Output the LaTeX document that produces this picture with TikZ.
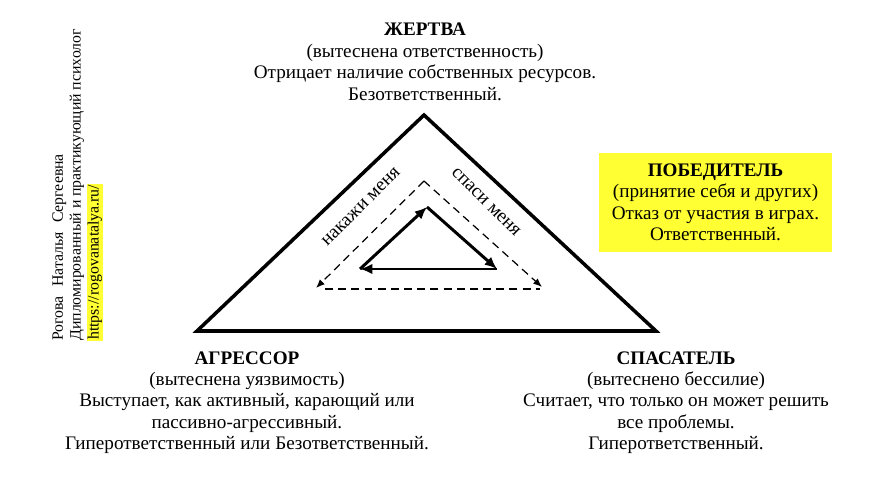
\documentclass[tikz,border=0pt]{standalone}
\usepackage{fontspec}
\setmainfont{Liberation Serif}
\usetikzlibrary{arrows.meta}
\definecolor{marker}{RGB}{255,255,51}
\tikzset{
  role/.style={align=center, inner sep=0pt, font=\fontsize{10.9}{12.2}\selectfont},
  edge/.style={line width=2pt, line join=miter},
  game/.style={line width=1.7pt, -{Latex[length=7pt,width=6pt]}},
  offer/.style={line width=0.7pt, dash pattern=on 4.5pt off 3pt},
}
\begin{document}
\begin{tikzpicture}[x=0.02cm,y=-0.02cm]
    \useasboundingbox (0,0) rectangle (874,476);
    % outer triangle, dashed invitations, inner game cycle
    \coordinate (top) at (424,115);
    \coordinate (left) at (197,331);
    \coordinate (right) at (656,331);
    \draw[edge] (top) -- (left) -- (right) -- cycle;
    \coordinate (dtop) at (424,181);
    \coordinate (dleft) at (316,288);
    \coordinate (dright) at (542,287);
    \coordinate (dbl) at (325,289);
    \coordinate (dbr) at (540,289);
    \draw[offer, -{Latex[length=5pt,width=4pt]}] (dtop) -- (dleft);
    \draw[offer, -{Latex[length=5pt,width=4pt]}] (dtop) -- (dright);
    \draw[offer] (dbl) -- (dbr);
    \coordinate (itop) at (427,207);
    \coordinate (ileft) at (360,269);
    \coordinate (iright) at (497,269);
    \draw[game] (ileft) -- (itop);
    \draw[game] (itop) -- (iright);
    \draw[game] (iright) -- (ileft);
    \node[role, rotate=45] (punish) at (361,207) {накажи меня};
    \node[role, rotate=-45] (save) at (486,202) {спаси меня};
    \node[role, anchor=north] (victim) at (425,23) {\textbf{ЖЕРТВА}\\(вытеснена ответственность)\\Отрицает наличие собственных ресурсов.\\Безответственный.};
    \node[role, anchor=north] (aggressor) at (247,351) {\textbf{АГРЕССОР}\\(вытеснена уязвимость)\\Выступает, как активный, карающий или\\пассивно-агрессивный.\\Гиперответственный или Безответственный.};
    \node[role, anchor=north] (rescuer) at (676,351) {\textbf{СПАСАТЕЛЬ}\\(вытеснено бессилие)\\Считает, что только он может решить\\все проблемы.\\Гиперответственный.};
    \node[role, fill=marker, minimum width=4.66cm, minimum height=1.98cm] (winner) at (715.5,202.5) {\textbf{ПОБЕДИТЕЛЬ}\\(принятие себя и других)\\Отказ от участия в играх.\\Ответственный.};
    \node[rotate=90, anchor=north west, align=left, inner sep=0pt, font=\fontsize{9}{10.2}\selectfont] (author) at (52,341) {Рогова\hspace{3pt} Наталья\hspace{3pt} Сергеевна\\Дипломированный и практикующий психолог\\\setlength{\fboxsep}{0.5pt}\colorbox{marker}{https://rogovanatalya.ru/}};
\end{tikzpicture}
\end{document}
